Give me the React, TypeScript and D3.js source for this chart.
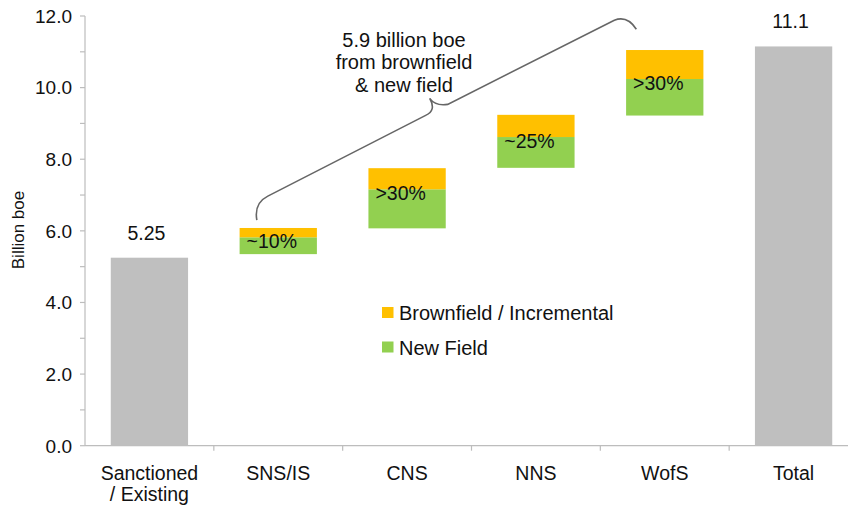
import React from "react";
import * as d3 from "d3";

const categories = ["Sanctioned / Existing", "SNS/IS", "CNS", "NNS", "WofS", "Total"];
const categoryLines = [["Sanctioned", "/ Existing"], ["SNS/IS"], ["CNS"], ["NNS"], ["WofS"], ["Total"]];
const totalCats = ["Sanctioned / Existing", "Total"];
const totalValues = [5.25, 11.15];
const totalLabels = ["5.25", "11.1"];
const stackCats = ["SNS/IS", "CNS", "NNS", "WofS"];
const stackBase = [5.35, 6.07, 7.76, 9.22];
const newField = [0.47, 1.09, 0.86, 1.02];
const brownfield = [0.26, 0.59, 0.62, 0.81];
const stackLabels = ["~10%", ">30%", "~25%", ">30%"];
const yTicks = [0, 2, 4, 6, 8, 10, 12];
const yMinorTicks = [0, 1, 2, 3, 4, 5, 6, 7, 8, 9, 10, 11, 12];
const legendItems = ["Brownfield / Incremental", "New Field"];
const annotationLines = ["5.9 billion boe", "from brownfield", "& new field"];

const W = 848;
const H = 507;
const FONT = "'Liberation Sans', Arial, Helvetica, sans-serif";
const GREY = "#bfbfbf";
const YELLOW = "#ffc000";
const GREEN = "#92d050";
const AXIS = "#bdbdbd";

export default function App() {
  const x = d3.scaleBand<string>().domain(categories).range([85, 858]).paddingInner(0.4).paddingOuter(0.2);
  const y = d3.scaleLinear().domain([0, 12]).range([445.7, 16]);
  const step = x.step();
  const bw = x.bandwidth();
  const bandStart = (c: string) => (x(c) as number) - step * 0.2;

  // brace anchors (data-driven)
  const lx = bandStart("SNS/IS") + 43;
  const cx = bandStart("CNS") + 87;
  const rx = bandStart("WofS") + 36;
  const braceL = y(6.3);
  const braceC = y(9.7);
  const braceR = y(11.63);
  const bracePath = [
    `M${lx},${braceL}`,
    `Q${lx - 3},${braceL - 17} ${lx + 11},${braceL - 24}`,
    `L${cx - 4},${braceC + 17}`,
    `Q${cx + 7},${braceC + 12} ${cx},${braceC}`,
    `Q${cx + 6},${braceC + 8} ${cx + 18},${braceC + 6}`,
    `L${rx - 22},${braceR - 9}`,
    `Q${rx - 9},${braceR - 14} ${rx},${braceR}`,
  ].join(" ");

  return (
    <svg width={W} height={H} style={{ position: "absolute", left: 0, top: 0, background: "#fff" }} fontFamily={FONT}>
      {/* y axis */}
      <line x1={85} x2={85} y1={y(12)} y2={y(0)} stroke={AXIS} strokeWidth={1.2} />
      {yMinorTicks.map((t) => (
        <line key={"m" + t} x1={80} x2={85} y1={y(t)} y2={y(t)} stroke={AXIS} strokeWidth={1.2} />
      ))}
      {yTicks.map((t) => (
        <text key={"t" + t} x={72} y={y(t)} dy="0.36em" textAnchor="end" fontSize={19} fill="#111">
          {t.toFixed(1)}
        </text>
      ))}
      <text transform={`translate(24,230) rotate(-90)`} textAnchor="middle" fontSize={17} fill="#111">
        Billion boe
      </text>

      {/* x axis */}
      <line x1={85} x2={W} y1={y(0)} y2={y(0)} stroke={AXIS} strokeWidth={1.2} />
      {categories.slice(1).map((c) => (
        <line key={"xt" + c} x1={bandStart(c)} x2={bandStart(c)} y1={y(0)} y2={y(0) + 5} stroke={AXIS} strokeWidth={1.2} />
      ))}
      {categories.map((c, i) => (
        <text key={"xl" + c} x={(x(c) as number) + bw / 2} y={480} textAnchor="middle" fontSize={19.5} fill="#111">
          {categoryLines[i].map((ln, j) => (
            <tspan key={j} x={(x(c) as number) + bw / 2} dy={j === 0 ? 0 : 21}>
              {ln}
            </tspan>
          ))}
        </text>
      ))}

      {/* total bars */}
      {totalCats.map((c, i) => (
        <g key={"tot" + c}>
          <rect x={x(c)} y={y(totalValues[i])} width={bw} height={y(0) - y(totalValues[i])} fill={GREY} />
          <text x={(x(c) as number) + bw / 2 - 3} y={y(totalValues[i]) - 18} textAnchor="middle" fontSize={19.5} fill="#111">
            {totalLabels[i]}
          </text>
        </g>
      ))}

      {/* stacked floating bars */}
      {stackCats.map((c, i) => {
        const g0 = stackBase[i];
        const g1 = g0 + newField[i];
        const b1 = g1 + brownfield[i];
        return (
          <g key={"st" + c}>
            <rect x={x(c)} y={y(g1)} width={bw} height={y(g0) - y(g1)} fill={GREEN} />
            <rect x={x(c)} y={y(b1)} width={bw} height={y(g1) - y(b1)} fill={YELLOW} />
            <text x={(x(c) as number) + 7} y={y(g1) + 11} fontSize={19.5} fill="#111">
              {stackLabels[i]}
            </text>
          </g>
        );
      })}

      {/* brace annotation */}
      <path d={bracePath} fill="none" stroke="#666" strokeWidth={1.6} />
      <text textAnchor="middle" fontSize={20} fill="#111">
        {annotationLines.map((ln, j) => (
          <tspan key={j} x={404} y={46.5 + j * 22.5}>
            {ln}
          </tspan>
        ))}
      </text>

      {/* legend */}
      {legendItems.map((l, i) => (
        <g key={l} transform={`translate(382,${307 + i * 34.5})`}>
          <rect x={0} y={0} width={11.5} height={11} fill={i === 0 ? YELLOW : GREEN} />
          <text x={17} y={13} fontSize={20} fill="#111">
            {l}
          </text>
        </g>
      ))}
    </svg>
  );
}
